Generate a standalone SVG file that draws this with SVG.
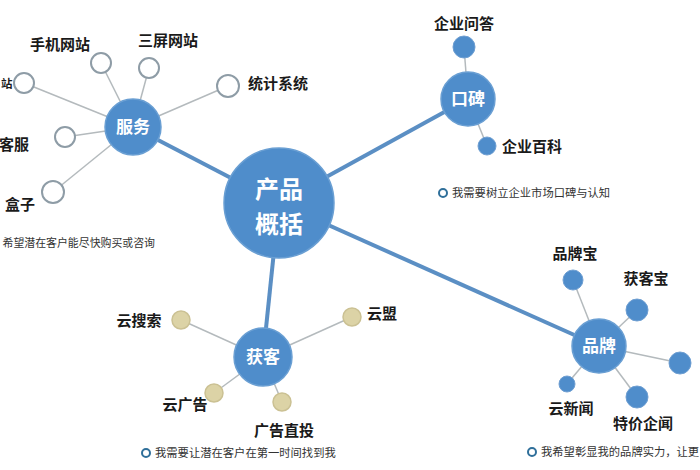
<svg xmlns="http://www.w3.org/2000/svg" width="700" height="470" viewBox="0 0 700 470">
<style>
.lbl{font-family:"Noto Sans CJK SC","Liberation Sans",sans-serif;font-weight:bold;font-size:15px;fill:#1a1a1a}
.hub{fill:#4f8dcb;stroke:#6a9fd3;stroke-width:1.5}
.hubt{font-family:"Noto Sans CJK SC","Liberation Sans",sans-serif;font-weight:bold;font-size:17px;fill:#ffffff;text-anchor:middle}
.hollow{fill:#ffffff;stroke:#8e9ca6;stroke-width:2}
.blue{fill:#4f8dcb;stroke:#6f9fd2;stroke-width:1}
.beige{fill:#dcd3a6;stroke:#cbc193;stroke-width:1.5}
.thin{stroke:#b4babd;stroke-width:1.5;fill:none}
.thick{stroke:#5b8fc4;stroke-width:4;fill:none}
.cap{font-family:"Noto Sans CJK SC","Liberation Sans",sans-serif;font-size:11.3px;fill:#333}
.ring{fill:#ffffff;stroke:#2f6f9a;stroke-width:2}
</style>
<rect width="700" height="470" fill="#ffffff"/>
<g id="connectors">
<line class="thick" x1="279" y1="203" x2="133" y2="127"/>
<line class="thick" x1="279" y1="203" x2="468" y2="99"/>
<line class="thick" x1="279" y1="203" x2="263" y2="357"/>
<line class="thick" x1="279" y1="203" x2="599" y2="346"/>
<line class="thin" x1="133" y1="127" x2="101" y2="63"/>
<line class="thin" x1="133" y1="127" x2="149" y2="68"/>
<line class="thin" x1="133" y1="127" x2="228" y2="86"/>
<line class="thin" x1="133" y1="127" x2="24" y2="83"/>
<line class="thin" x1="133" y1="127" x2="65" y2="137"/>
<line class="thin" x1="133" y1="127" x2="53" y2="192"/>
<line class="thin" x1="468" y1="99" x2="464" y2="47"/>
<line class="thin" x1="468" y1="99" x2="487" y2="146"/>
<line class="thin" x1="263" y1="357" x2="181" y2="320"/>
<line class="thin" x1="263" y1="357" x2="352" y2="317"/>
<line class="thin" x1="263" y1="357" x2="214" y2="393"/>
<line class="thin" x1="263" y1="357" x2="282" y2="402"/>
<line class="thin" x1="599" y1="346" x2="573" y2="280"/>
<line class="thin" x1="599" y1="346" x2="637" y2="310"/>
<line class="thin" x1="599" y1="346" x2="680" y2="363"/>
<line class="thin" x1="599" y1="346" x2="567" y2="384"/>
<line class="thin" x1="599" y1="346" x2="637" y2="397"/>
</g>
<g id="center">
<circle class="hub" cx="279" cy="203" r="55"/>
<text class="hubt" x="279" y="198" style="font-size:24px">产品</text>
<text class="hubt" x="279" y="233" style="font-size:24px">概括</text>
</g>
<g id="fuwu">
<circle class="hub" cx="133" cy="127" r="28"/>
<text class="hubt" x="133" y="133">服务</text>
</g>
<g id="fuwu-shouji"><circle class="hollow" cx="101" cy="63" r="10"/><text class="lbl" x="60" y="50" text-anchor="middle">手机网站</text></g>
<g id="fuwu-sanping"><circle class="hollow" cx="149" cy="68" r="10"/><text class="lbl" x="168" y="46" text-anchor="middle">三屏网站</text></g>
<g id="fuwu-tongji"><circle class="hollow" cx="228" cy="86" r="11"/><text class="lbl" x="248" y="89">统计系统</text></g>
<g id="fuwu-zhan"><circle class="hollow" cx="24" cy="83" r="10"/><text class="lbl" x="1" y="88" style="font-size:11.5px">站</text></g>
<g id="fuwu-kefu"><circle class="hollow" cx="65" cy="137" r="10"/><text class="lbl" x="29" y="150" text-anchor="end">客服</text></g>
<g id="fuwu-hezi"><circle class="hollow" cx="53" cy="192" r="11"/><text class="lbl" x="20" y="210" text-anchor="middle">盒子</text></g>
<g id="fuwu-cap"><text class="cap" x="155" y="247" text-anchor="end" style="font-size:10.9px">希望潜在客户能尽快购买或咨询</text></g>
<g id="koubei">
<circle class="hub" cx="468" cy="99" r="27"/>
<text class="hubt" x="468" y="105">口碑</text>
</g>
<g id="koubei-wenda"><circle class="blue" cx="464" cy="47" r="11"/><text class="lbl" x="464" y="29" text-anchor="middle">企业问答</text></g>
<g id="koubei-baike"><circle class="blue" cx="487" cy="146" r="9"/><text class="lbl" x="502" y="152">企业百科</text></g>
<g id="koubei-cap"><circle class="ring" cx="443" cy="193" r="4"/><text class="cap" x="452" y="197">我需要树立企业市场口碑与认知</text></g>
<g id="huoke">
<circle class="hub" cx="263" cy="357" r="29"/>
<text class="hubt" x="263" y="363">获客</text>
</g>
<g id="huoke-sousuo"><circle class="beige" cx="181" cy="320" r="9"/><text class="lbl" x="139" y="326" text-anchor="middle">云搜索</text></g>
<g id="huoke-meng"><circle class="beige" cx="352" cy="317" r="9"/><text class="lbl" x="367" y="319">云盟</text></g>
<g id="huoke-guanggao"><circle class="beige" cx="214" cy="393" r="9"/><text class="lbl" x="185" y="410" text-anchor="middle">云广告</text></g>
<g id="huoke-zhitou"><circle class="beige" cx="282" cy="402" r="9"/><text class="lbl" x="284" y="436" text-anchor="middle">广告直投</text></g>
<g id="huoke-cap"><circle class="ring" cx="146" cy="453" r="4"/><text class="cap" x="155" y="457">我需要让潜在客户在第一时间找到我</text></g>
<g id="pinpai">
<circle class="hub" cx="599" cy="346" r="27"/>
<text class="hubt" x="599" y="352">品牌</text>
</g>
<g id="pinpai-bao"><circle class="blue" cx="573" cy="280" r="10"/><text class="lbl" x="575" y="259" text-anchor="middle">品牌宝</text></g>
<g id="pinpai-huokebao"><circle class="blue" cx="637" cy="310" r="11"/><text class="lbl" x="646" y="284" text-anchor="middle">获客宝</text></g>
<g id="pinpai-right"><circle class="blue" cx="680" cy="363" r="11"/></g>
<g id="pinpai-xinwen"><circle class="blue" cx="567" cy="384" r="8"/><text class="lbl" x="571" y="414" text-anchor="middle">云新闻</text></g>
<g id="pinpai-tejia"><circle class="blue" cx="637" cy="397" r="11"/><text class="lbl" x="643" y="429" text-anchor="middle">特价企闻</text></g>
<g id="pinpai-cap"><circle class="ring" cx="532" cy="452" r="4"/><text class="cap" x="541" y="456">我希望彰显我的品牌实力，让更</text></g>
</svg>
